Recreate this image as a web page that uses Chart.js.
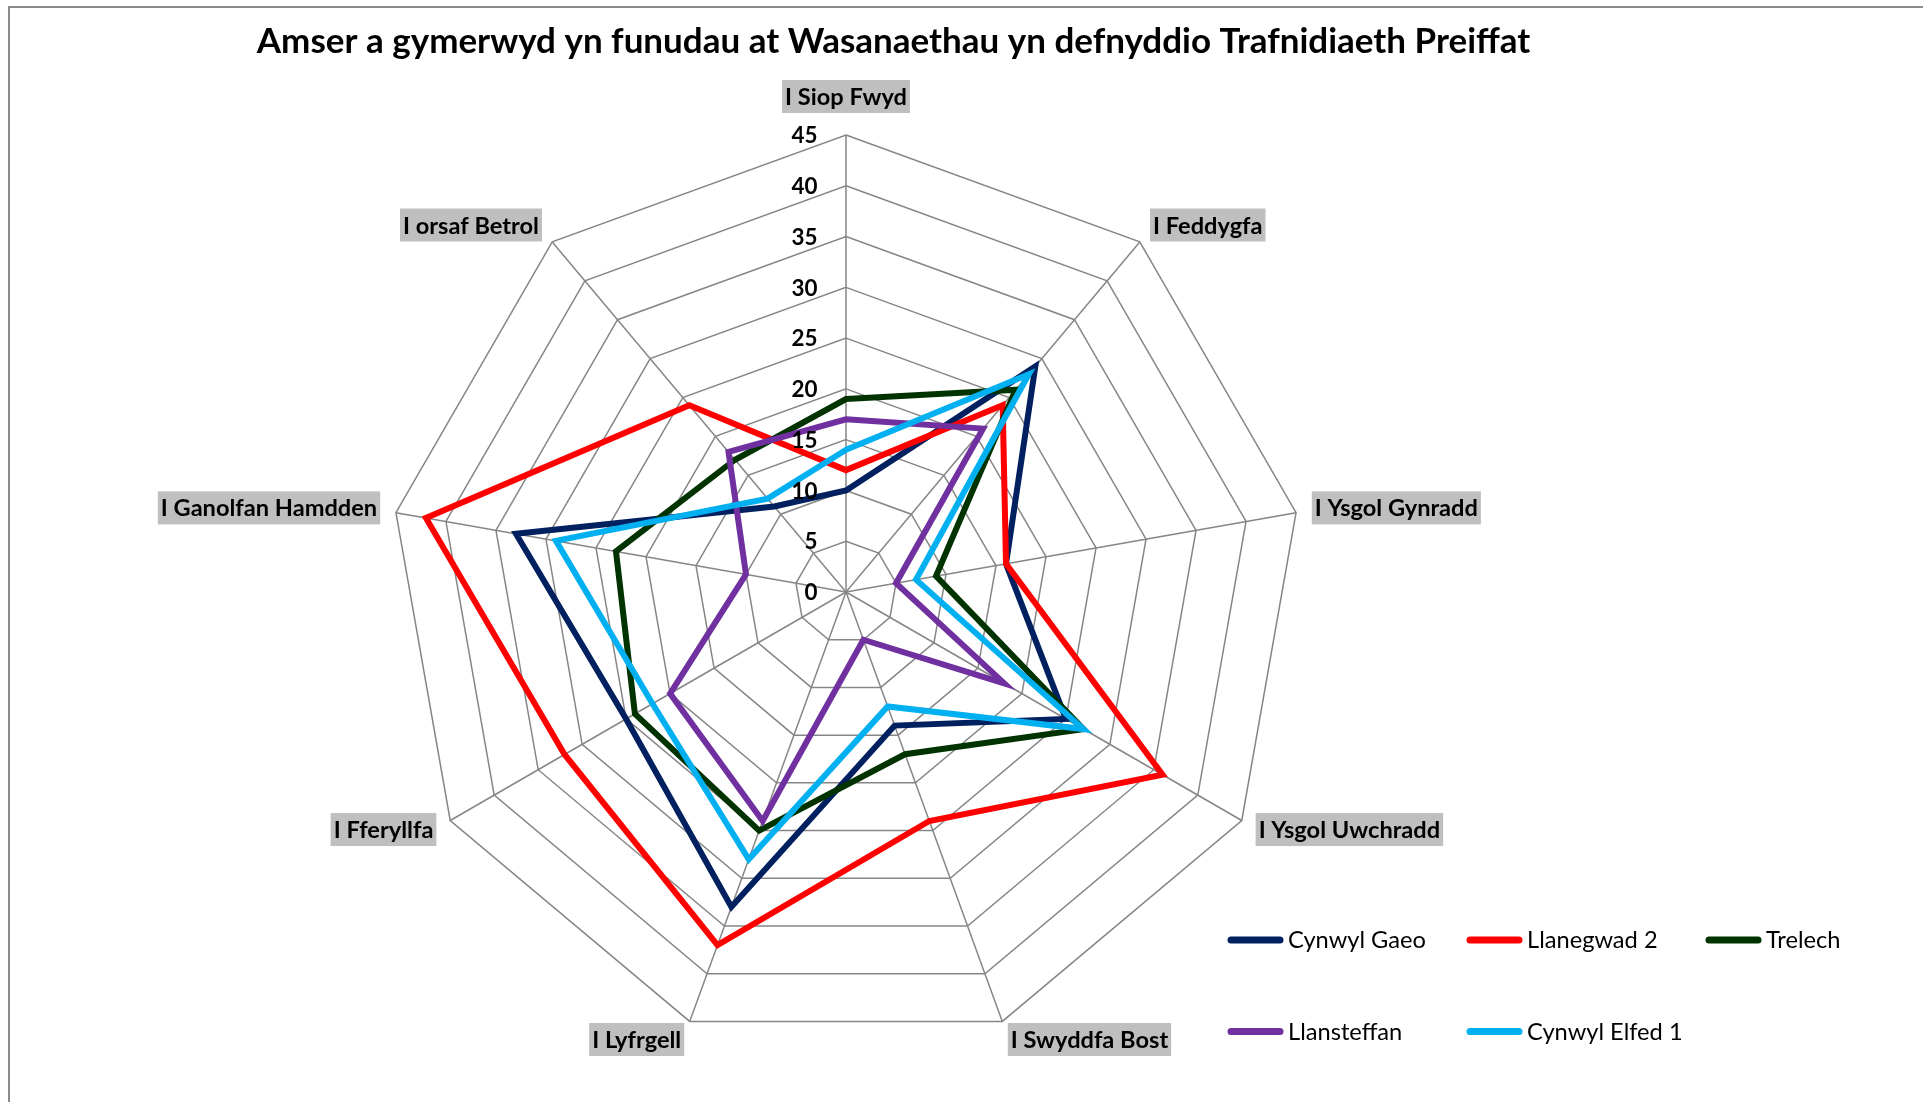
<!DOCTYPE html>
<html>
<head>
<meta charset="utf-8">
<script src="https://cdn.jsdelivr.net/npm/chart.js@4/dist/chart.umd.min.js"></script>
<style>
  html, body { margin: 0; padding: 0; background: #ffffff; }
  body { width: 1923px; height: 1102px; position: relative; overflow: hidden; }
  #frameTop { position: absolute; left: 8px; top: 6px; right: 0; height: 0; border-top: 2px solid #8c8c8c; }
  #frameLeft { position: absolute; left: 8px; top: 6px; bottom: 0; width: 0; border-left: 2px solid #8c8c8c; }
  #c { position: absolute; left: 0; top: 0; }
</style>
</head>
<body>
<div id="frameTop"></div>
<div id="frameLeft"></div>
<canvas id="c" width="1923" height="1102"></canvas>
<script>
// ---------------- DATA ----------------
const chartTitle = 'Amser a gymerwyd yn funudau at Wasanaethau yn defnyddio Trafnidiaeth Preiffat';
const categories = ['I Siop Fwyd', 'I Feddygfa', 'I Ysgol Gynradd', 'I Ysgol Uwchradd', 'I Swyddfa Bost',
                    'I Lyfrgell', 'I Fferyllfa', 'I Ganolfan Hamdden', 'I orsaf Betrol'];
const seriesNames = ['Cynwyl Gaeo', 'Llanegwad 2', 'Trelech', 'Llansteffan', 'Cynwyl Elfed 1'];
const cynwylGaeo   = [10, 29, 16, 25, 14, 33, 25, 33, 11];
const llanegwad2   = [12, 24, 16, 36, 24, 37, 32, 42, 24];
const trelech      = [19, 26,  9, 27, 17, 25, 24, 23, 17];
const llansteffan  = [17, 21,  5, 18,  5, 24, 20, 10, 18];
const cynwylElfed1 = [14, 28,  7, 27, 12, 28, 22, 29, 12];
const axisMin = 0;
const axisMax = 45;
const axisStep = 5;

// ---------------- STYLE ----------------
const seriesValues = [cynwylGaeo, llanegwad2, trelech, llansteffan, cynwylElfed1];
const seriesColors = ['#002060', '#FF0000', '#003300', '#7030A0', '#00B0F0'];
const FONT = 'Lato, "Open Sans", sans-serif';

const mctx = document.createElement('canvas').getContext('2d');
function fitSize(text, weight, targetWidth) {
  mctx.font = weight + ' 100px ' + FONT;
  return 100 * targetWidth / mctx.measureText(text).width;
}
const titleSize  = fitSize(chartTitle, 'bold', 1274);
const pointSize  = fitSize('I Siop Fwyd', 'bold', 122);
const tickSize   = fitSize('45', 'bold', 26);
const legendSize = fitSize('Cynwyl Gaeo', 'normal', 138);

const decorPlugin = {
  id: 'decor',
  afterDatasetsDraw(chart) {
    const s = chart.scales.r;
    const ctx = chart.ctx;
    ctx.save();
    // tick labels (left of vertical axis)
    ctx.font = 'bold ' + tickSize + 'px ' + FONT;
    ctx.fillStyle = '#000000';
    ctx.textAlign = 'right';
    ctx.textBaseline = 'middle';
    s.ticks.forEach(t => {
      const d = s.getDistanceFromCenterForValue(t.value);
      ctx.fillText(String(t.value), s.xCenter - 28.5, s.yCenter - d + 1);
    });
    // point labels with grey backdrop
    ctx.font = 'bold ' + pointSize + 'px ' + FONT;
    ctx.textBaseline = 'alphabetic';
    ctx.textAlign = 'left';
    const boxH = 33, padX = 3;
    chart.data.labels.forEach((lab, i) => {
      const a = s.getIndexAngle(i);
      const p = s.getPointPosition(i, s.drawingArea);
      const w = ctx.measureText(lab).width + 2 * padX;
      const sn = Math.sin(a), cs = Math.cos(a);
      let x, yc;
      if (Math.abs(sn) < 1e-6) {
        x = p.x - w / 2;
        yc = cs > 0 ? p.y - 22 - boxH / 2 : p.y + 22 + boxH / 2;
      } else {
        const gap = 16 * Math.abs(sn);
        x = sn > 0 ? p.x + gap : p.x - gap - w;
        yc = p.y - 20.5 * cs - 1.2;
      }
      ctx.fillStyle = '#BFBFBF';
      ctx.fillRect(x, yc - boxH / 2, w, boxH);
      ctx.fillStyle = '#000000';
      ctx.fillText(lab, x + padX, yc + boxH / 2 - 8);
    });
    // title
    ctx.font = 'bold ' + titleSize + 'px ' + FONT;
    ctx.textAlign = 'center';
    ctx.fillText(chartTitle, 893.6, 52.7);
    // legend
    ctx.font = 'normal ' + legendSize + 'px ' + FONT;
    ctx.textAlign = 'left';
    ctx.lineCap = 'round';
    chart.data.datasets.forEach((ds, i) => {
      const col = i % 3, row = Math.floor(i / 3);
      const x0 = 1231 + col * 239;
      const y0 = 940 + row * 91.5;
      ctx.strokeStyle = ds.borderColor;
      ctx.lineWidth = 7;
      ctx.beginPath();
      ctx.moveTo(x0, y0);
      ctx.lineTo(x0 + 49, y0);
      ctx.stroke();
      ctx.fillStyle = '#000000';
      ctx.fillText(ds.label, x0 + 57, y0 + 8.3);
    });
    ctx.restore();
  }
};

new Chart(document.getElementById('c'), {
  type: 'radar',
  data: {
    labels: categories,
    datasets: seriesNames.map((name, i) => ({
      label: name,
      data: seriesValues[i],
      borderColor: seriesColors[i],
      backgroundColor: seriesColors[i],
      borderWidth: 6,
      borderJoinStyle: 'miter',
      pointRadius: 0,
      pointHoverRadius: 0,
      fill: false,
      tension: 0,
      order: seriesNames.length - i
    }))
  },
  options: {
    responsive: false,
    animation: false,
    devicePixelRatio: 1,
    layout: { padding: { left: 389, top: 135, right: 620, bottom: 53 } },
    plugins: {
      legend: { display: false },
      title: { display: false },
      tooltip: { enabled: false }
    },
    scales: {
      r: {
        min: axisMin,
        max: axisMax,
        ticks: { stepSize: axisStep, display: false },
        pointLabels: { display: false },
        grid: { color: '#868686', lineWidth: 1.5 },
        angleLines: { color: '#868686', lineWidth: 1.5 }
      }
    }
  },
  plugins: [decorPlugin]
});
</script>
</body>
</html>
